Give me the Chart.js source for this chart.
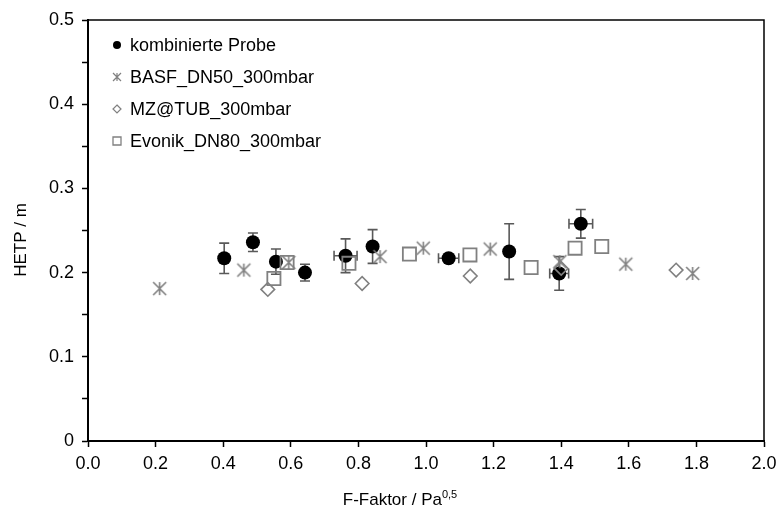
<!DOCTYPE html>
<html>
<head>
<meta charset="utf-8">
<script src="https://cdn.jsdelivr.net/npm/chart.js@4/dist/chart.umd.min.js"></script>
<style>
  html, body { margin: 0; padding: 0; background: #ffffff; }
  canvas { display: block; }
</style>
</head>
<body>
<canvas id="chart" width="778" height="508"></canvas>
<script>
// Series names
const seriesNames = ['kombinierte Probe', 'BASF_DN50_300mbar', 'MZ@TUB_300mbar', 'Evonik_DN80_300mbar'];

// Combined sample with error bars (F-factor / HETP)
const kombF        = [0.403, 0.488, 0.556, 0.642, 0.762, 0.842, 1.067, 1.246, 1.394, 1.458];
const kombHETP     = [0.217, 0.236, 0.213, 0.200, 0.220, 0.231, 0.217, 0.225, 0.199, 0.258];
const kombErrF     = [0,     0,     0,     0,     0.034, 0,     0.030, 0,     0.028, 0.035];
const kombErrHETP  = [0.018, 0.011, 0.015, 0.010, 0.020, 0.020, 0,     0.033, 0.020, 0.017];

// BASF DN50, 300 mbar
const basfF    = [0.212, 0.461, 0.594, 0.864, 0.992, 1.190, 1.396, 1.591, 1.789];
const basfHETP = [0.181, 0.203, 0.212, 0.219, 0.229, 0.228, 0.213, 0.210, 0.199];

// MZ@TUB, 300 mbar
const mzF    = [0.532, 0.811, 1.131, 1.400, 1.740];
const mzHETP = [0.180, 0.187, 0.196, 0.205, 0.203];

// Evonik DN80, 300 mbar
const evonikF    = [0.550, 0.589, 0.772, 0.951, 1.130, 1.311, 1.441, 1.520];
const evonikHETP = [0.193, 0.212, 0.211, 0.222, 0.221, 0.206, 0.229, 0.231];

// Axis ranges
const xMin = 0, xMax = 2.0, xStep = 0.2;
const yMin = 0, yMax = 0.5, yStep = 0.05, yLabelStep = 0.1;

const FONT = '"Liberation Sans", Arial, sans-serif';
const GREY = '#808080';
const ERR_COLOR = '#595959';

const toPoints = (xs, ys) => xs.map((x, i) => ({ x: x, y: ys[i] }));

// Marker bitmaps (asterisk for BASF, small legend symbols)
function makeMarker(kind, size, lw) {
  const pad = Math.ceil(lw) + 1;
  const c = document.createElement('canvas');
  c.width = size + pad * 2;
  c.height = size + pad * 2;
  const g = c.getContext('2d');
  const cx = c.width / 2, cy = c.height / 2, h = size / 2;
  g.lineWidth = lw;
  g.strokeStyle = GREY;
  g.fillStyle = '#000';
  g.beginPath();
  if (kind === 'star') {
    g.moveTo(cx, cy - h); g.lineTo(cx, cy + h);
    g.moveTo(cx - h, cy - h); g.lineTo(cx + h, cy + h);
    g.moveTo(cx - h, cy + h); g.lineTo(cx + h, cy - h);
    g.stroke();
  } else if (kind === 'circle') {
    g.arc(cx, cy, h, 0, Math.PI * 2);
    g.fill();
  } else if (kind === 'diamond') {
    g.moveTo(cx, cy - h); g.lineTo(cx + h, cy); g.lineTo(cx, cy + h); g.lineTo(cx - h, cy);
    g.closePath();
    g.stroke();
  } else if (kind === 'square') {
    g.rect(cx - h, cy - h, size, size);
    g.stroke();
  }
  return c;
}

const starMarker = makeMarker('star', 13, 1.6);
const legendMarkers = [
  makeMarker('circle', 8, 1),
  makeMarker('star', 8, 1.2),
  makeMarker('diamond', 8, 1.2),
  makeMarker('square', 8, 1.3)
];

// Error bars for the combined sample, drawn beneath its markers
const errorBars = {
  id: 'errorBars',
  beforeDatasetDraw(chart, args) {
    if (args.index !== 0) return;
    const { ctx, scales: { x, y } } = chart;
    const cap = 5;
    ctx.save();
    ctx.strokeStyle = ERR_COLOR;
    ctx.lineWidth = 1.6;
    kombF.forEach((f, i) => {
      const px = x.getPixelForValue(f);
      const py = y.getPixelForValue(kombHETP[i]);
      const ey = kombErrHETP[i];
      const ex = kombErrF[i];
      ctx.beginPath();
      if (ey > 0) {
        const t = y.getPixelForValue(kombHETP[i] + ey);
        const b = y.getPixelForValue(kombHETP[i] - ey);
        ctx.moveTo(px, t); ctx.lineTo(px, b);
        ctx.moveTo(px - cap, t); ctx.lineTo(px + cap, t);
        ctx.moveTo(px - cap, b); ctx.lineTo(px + cap, b);
      }
      if (ex > 0) {
        const l = x.getPixelForValue(f - ex);
        const r = x.getPixelForValue(f + ex);
        ctx.moveTo(l, py); ctx.lineTo(r, py);
        ctx.moveTo(l, py - cap); ctx.lineTo(l, py + cap);
        ctx.moveTo(r, py - cap); ctx.lineTo(r, py + cap);
      }
      ctx.stroke();
    });
    ctx.restore();
  }
};

// Plot frame, legend and axis titles
const decorations = {
  id: 'decorations',
  afterDraw(chart) {
    const { ctx, chartArea: a } = chart;
    ctx.save();
    // frame top/right
    ctx.strokeStyle = '#000';
    ctx.lineWidth = 1.5;
    ctx.beginPath();
    ctx.moveTo(a.left, a.top); ctx.lineTo(a.right, a.top); ctx.lineTo(a.right, a.bottom);
    ctx.stroke();

    // legend
    ctx.fillStyle = '#000';
    ctx.font = '18px ' + FONT;
    ctx.textBaseline = 'middle';
    ctx.textAlign = 'left';
    seriesNames.forEach((name, i) => {
      const cy = 45 + i * 32;
      const m = legendMarkers[i];
      ctx.drawImage(m, 117 - m.width / 2, cy - m.height / 2);
      ctx.fillText(name, 130, cy + 1);
    });

    // x axis title with superscript exponent
    const main = 'F-Faktor / Pa';
    const sup = '0,5';
    ctx.textBaseline = 'alphabetic';
    ctx.font = '17px ' + FONT;
    const wMain = ctx.measureText(main).width;
    ctx.font = '11px ' + FONT;
    const wSup = ctx.measureText(sup).width;
    const x0 = 400 - (wMain + wSup) / 2;
    ctx.font = '17px ' + FONT;
    ctx.fillText(main, x0, 505);
    ctx.font = '11px ' + FONT;
    ctx.fillText(sup, x0 + wMain, 498);

    // y axis title
    ctx.font = '17px ' + FONT;
    ctx.translate(21, 240);
    ctx.rotate(-Math.PI / 2);
    ctx.textAlign = 'center';
    ctx.textBaseline = 'middle';
    ctx.fillText('HETP / m', 0, 0);
    ctx.restore();
  }
};

new Chart(document.getElementById('chart'), {
  type: 'scatter',
  data: {
    datasets: [
      {
        label: seriesNames[0],
        data: toPoints(kombF, kombHETP),
        pointStyle: 'circle',
        pointRadius: 7,
        pointHoverRadius: 7,
        backgroundColor: '#000',
        borderColor: '#000',
        borderWidth: 0,
        order: 4
      },
      {
        label: seriesNames[1],
        data: toPoints(basfF, basfHETP),
        pointStyle: starMarker,
        pointRadius: 7,
        order: 3
      },
      {
        label: seriesNames[2],
        data: toPoints(mzF, mzHETP),
        pointStyle: 'rectRot',
        pointRadius: 6.8,
        pointHoverRadius: 6.8,
        backgroundColor: 'rgba(0,0,0,0)',
        borderColor: GREY,
        borderWidth: 1.6,
        order: 2
      },
      {
        label: seriesNames[3],
        data: toPoints(evonikF, evonikHETP),
        pointStyle: 'rect',
        pointRadius: 9.3,
        pointHoverRadius: 9.3,
        backgroundColor: 'rgba(0,0,0,0)',
        borderColor: GREY,
        borderWidth: 1.8,
        order: 1
      }
    ]
  },
  options: {
    responsive: false,
    animation: false,
    devicePixelRatio: 1,
    layout: { padding: { top: 20, right: 14, left: 0, bottom: 0 } },
    plugins: {
      legend: { display: false },
      tooltip: { enabled: false }
    },
    scales: {
      x: {
        type: 'linear',
        min: xMin,
        max: xMax,
        afterFit(s) { s.height = 67; s.paddingLeft = 0; s.paddingRight = 0; },
        border: { display: true, color: '#000', width: 2 },
        grid: { display: true, drawOnChartArea: false, drawTicks: true, tickLength: 6, tickWidth: 1.5, tickColor: '#000' },
        ticks: {
          stepSize: xStep,
          padding: 6,
          color: '#000',
          font: { family: FONT, size: 18 },
          callback: (v) => Number(v).toFixed(1)
        }
      },
      y: {
        type: 'linear',
        min: yMin,
        max: yMax,
        afterFit(s) { s.width = 88; s.paddingTop = 0; s.paddingBottom = 0; },
        border: { display: true, color: '#000', width: 2 },
        grid: { display: true, drawOnChartArea: false, drawTicks: true, tickLength: 6, tickWidth: 1.5, tickColor: '#000' },
        ticks: {
          stepSize: yStep,
          padding: 8,
          color: '#000',
          font: { family: FONT, size: 18 },
          callback: (v) => {
            const k = v / yLabelStep;
            if (Math.abs(k - Math.round(k)) > 1e-6) return '';
            return Math.abs(v) < 1e-9 ? '0' : Number(v).toFixed(1);
          }
        }
      }
    }
  },
  plugins: [errorBars, decorations]
});
</script>
</body>
</html>
